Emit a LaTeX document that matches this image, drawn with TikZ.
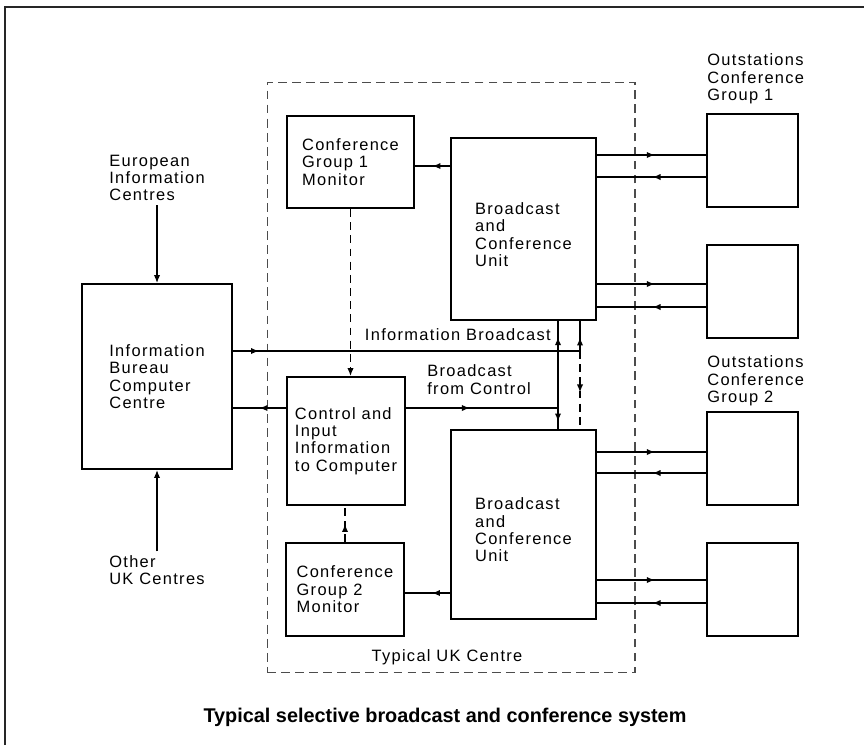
\documentclass[tikz,border=0pt]{standalone}
\usepackage{fontspec}
\setmainfont{Liberation Sans}
\newfontfamily\blockfont[LetterSpace=8]{Liberation Sans}
\usetikzlibrary{arrows.meta,decorations.markings}

\tikzset{
  lab/.style={font=\blockfont\fontsize{9.35pt}{9.9pt}\selectfont, align=left, inner sep=2pt},
  unit/.style={lab, draw, line width=1.1pt},
  conn/.style={line width=0.8pt},
  dashline/.style={conn, dash pattern=on 4.5pt off 3pt},
  midfwd/.style={postaction={decorate, decoration={markings,
    mark=at position #1 with {\arrow{Latex[length=4.5pt,width=3.6pt]}}}}},
  midrev/.style={postaction={decorate, decoration={markings,
    mark=at position #1 with {\arrowreversed{Latex[length=4.5pt,width=3.6pt]}}}}},
}

\begin{document}
\begin{tikzpicture}[x=0.02cm, y=-0.02cm]
\useasboundingbox (0,0) rectangle (864,745);

% page frame
\draw[line width=1.2pt, black!85] (5,745) -- (5,7) -- (864,7);

% typical UK centre
\node[draw, black!70, line width=0.6pt, dash pattern=on 5pt off 3pt,
  minimum width=7.36cm, minimum height=11.82cm] (uk) at (451,377.5) {};
\node[lab] (uklabel) at (447,657) {Typical UK Centre};

\node[unit, minimum width=2.54cm, minimum height=1.84cm] (mon1) at (350.5,162) {Conference\\Group 1\\Monitor};
\node[unit, minimum width=2.9cm, minimum height=3.64cm] (bcu1) at (523.5,229) {\rule{0pt}{13pt}Broadcast\\and\\Conference\\Unit};
\node[unit, minimum width=2.36cm, minimum height=2.56cm] (ctrl) at (346,441) {Control and\\Input\\Information\\to Computer};
\node[unit, minimum width=2.36cm, minimum height=1.86cm] (mon2) at (345,589.5) {Conference\\Group 2\\Monitor};
\node[unit, minimum width=2.9cm, minimum height=3.78cm] (bcu2) at (523.5,524.5) {\rule{0pt}{13pt}Broadcast\\and\\Conference\\Unit};

% computer centre and its sources
\node[unit, minimum width=3cm, minimum height=3.7cm] (bureau) at (157,376.5) {Information\\Bureau\\Computer\\Centre};
\node[lab] (euro) at (157,178) {European\\Information\\Centres};
\node[lab] (other) at (157,570) {Other\\UK Centres};

% outstations
\foreach \n/\y in {os1/160.5, os2/291.5, os3/458.5, os4/589.5}
  \node[unit, minimum width=1.82cm, minimum height=1.86cm] (\n) at (752.5,\y) {};
\node[lab, anchor=west, inner sep=0pt] (grp1) at (707,79) {Outstations\\Conference\\Group 1};
\node[lab, anchor=west, inner sep=0pt] (grp2) at (707,381) {Outstations\\Conference\\Group 2};

% line labels
\node[lab, anchor=east, inner sep=0pt] (iblabel) at (551,335) {Information Broadcast};
\node[lab, anchor=west, inner sep=0pt] (bclabel) at (427,379.5) {Broadcast\\from Control};

% caption
\node[font=\bfseries\fontsize{11.3pt}{13pt}\selectfont] (caption) at (445,717) {Typical selective broadcast and conference system};

% connectors
\coordinate (ib) at (580,351);
\coordinate (bc) at (558,408);
\coordinate (m1) at (0,166);
\coordinate (m2) at (0,593);

\draw[conn, -{Latex[length=4.5pt,width=3.6pt]}] (euro) -- (bureau);
\draw[conn, -{Latex[length=4.5pt,width=3.6pt]}] (other) -- (bureau);
\draw[conn, midfwd=.5] (bcu1.west |- m1) -- (mon1.east |- m1);
\draw[conn, midfwd=.4] (bcu2.west |- m2) -- (mon2.east |- m2);
\draw[dashline, -{Latex[length=4.5pt,width=3.6pt]}] (mon1.south) -- (mon1.south |- ctrl.north);
\draw[dashline, midfwd=.5] (mon2.north) -- (mon2.north |- ctrl.south);
\draw[conn, midfwd=.075] (bureau.east |- ib) -- (ib);
\draw[conn, midfwd=.45] (ib) -- (bcu1.south -| ib);
\draw[dashline, midfwd=.53] (ib) -- (bcu2.north -| ib);
\draw[conn, midfwd=.5] (ctrl.west |- bc) -- (bureau.east |- bc);
\draw[conn, midfwd=.42] (ctrl.east |- bc) -- (bc);
\draw[conn, midrev=.07, midfwd=.85] (bcu2.north -| bc) -- (bcu1.south -| bc);

% outstation links
\foreach \b/\o/\yo/\yi in {bcu1/os1/155/177, bcu1/os2/284/307, bcu2/os3/452/473, bcu2/os4/580/603} {
  \draw[conn, midfwd=.53] (\b.east |- 0,\yo) -- (\o.west |- 0,\yo);
  \draw[conn, midfwd=.49] (\o.west |- 0,\yi) -- (\b.east |- 0,\yi);
}

\end{tikzpicture}
\end{document}
